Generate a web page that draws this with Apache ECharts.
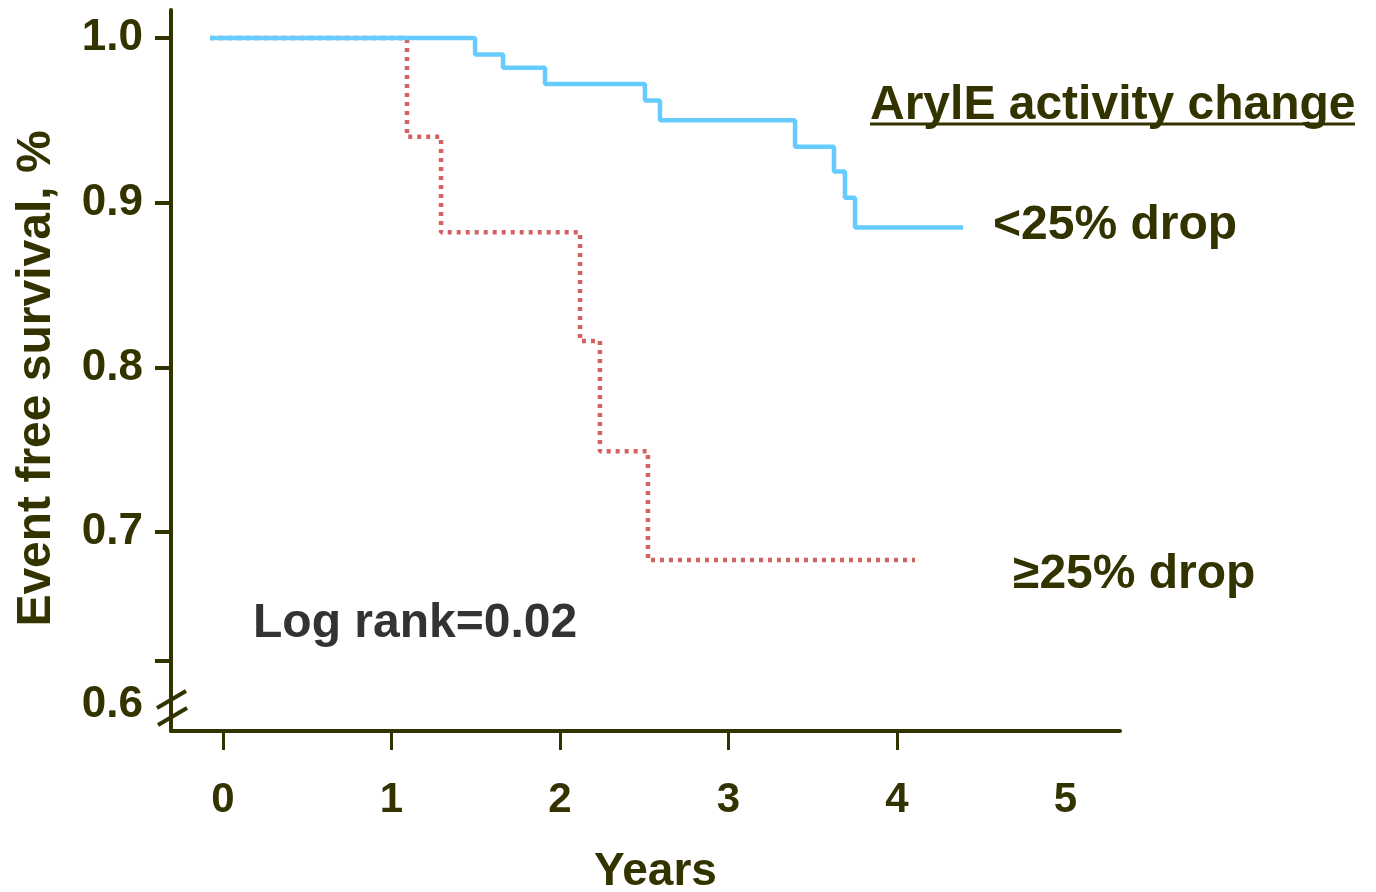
<!DOCTYPE html>
<html>
<head>
<meta charset="utf-8">
<script src="https://cdn.jsdelivr.net/npm/echarts@6/dist/echarts.min.js"></script>
<style>
html,body{margin:0;padding:0;background:#fff;}
#c{width:1376px;height:892px;}
</style>
</head>
<body>
<div id="c"></div>
<script>
// ---- data ----
const xTickValues = [0, 1, 2, 3, 4];
const xLabelValues = [0, 1, 2, 3, 4, 5];
const yLabelValues = [0.595, 0.7, 0.8, 0.9, 1.0];
const yTickValues = [0.622, 0.7, 0.8, 0.9, 1.0];
const yLabelTexts = ['0.6', '0.7', '0.8', '0.9', '1.0'];

// <25% drop (solid blue) : time (years), survival
const lowDropTimes = [-0.077, 1.496, 1.662, 1.911, 2.504, 2.593, 3.395, 3.626, 3.691, 3.751, 4.392];
const lowDropSurv  = [1.000, 0.990, 0.982, 0.972, 0.962, 0.950, 0.934, 0.919, 0.903, 0.885, 0.885];

// >=25% drop (dotted red)
const highDropTimes = [-0.077, 1.092, 1.294, 2.119, 2.237, 2.522, 4.107];
const highDropSurv  = [1.000, 0.940, 0.882, 0.816, 0.749, 0.683, 0.683];

const seriesNames = ['<25% drop', '≥25% drop'];
const legendTitle = 'ArylE activity change';
const statText = 'Log rank=0.02';
const xTitle = 'Years';
const yTitle = 'Event free survival, %';

// ---- chart ----
const TXT = '#333300';
const FONT = '"Liberation Sans", Arial, sans-serif';
const zip = (a, b) => a.map((v, i) => [v, b[i]]);

const chart = echarts.init(document.getElementById('c'));
chart.setOption({
  backgroundColor: '#ffffff',
  animation: false,
  grid: { left: 171, right: 256, top: 10, bottom: 161, containLabel: false, outerBoundsMode: 'none' },
  xAxis: {
    type: 'value', min: -0.3086, max: 5.3234,
    name: xTitle, nameLocation: 'middle', nameGap: 118,
    nameTextStyle: { color: TXT, fontSize: 46, fontWeight: 'bold', fontFamily: FONT, padding: [0, 0, 0, 20] },
    axisLine: { show: true, onZero: false, lineStyle: { color: TXT, width: 4 } },
    axisTick: { show: true, customValues: xTickValues, length: 19, inside: false, lineStyle: { color: TXT, width: 3 } },
    axisLabel: { customValues: xLabelValues, margin: 48, color: TXT, fontSize: 42, fontWeight: 'bold', fontFamily: FONT, formatter: v => String(Math.round(v)) },
    splitLine: { show: false }
  },
  yAxis: {
    type: 'value', min: 0.5792, max: 1.0170,
    name: yTitle, nameLocation: 'middle', nameGap: 110, nameRotate: 90,
    nameTextStyle: { color: TXT, fontSize: 48, fontWeight: 'bold', fontFamily: FONT, padding: [0, 16, 0, 0] },
    axisLine: { show: true, onZero: false, lineStyle: { color: TXT, width: 4 } },
    axisTick: { show: true, customValues: yTickValues, length: 16, inside: false, lineStyle: { color: TXT, width: 4 } },
    axisLabel: {
      customValues: yLabelValues, margin: 28, color: TXT, fontSize: 44, fontWeight: 'bold', fontFamily: FONT,
      formatter: v => yLabelTexts[yLabelValues.findIndex(x => Math.abs(x - v) < 1e-6)]
    },
    splitLine: { show: false }
  },
  series: [
    {
      name: seriesNames[1], type: 'line', step: 'end', symbol: 'none', z: 2,
      data: zip(highDropTimes, highDropSurv),
      lineStyle: { color: '#d4615f', width: 4.5, type: [4, 5] },
      endLabel: { show: true, formatter: seriesNames[1], color: TXT, fontSize: 48, fontWeight: 'bold', fontFamily: FONT, distance: 0, offset: [98, 15] }
    },
    {
      name: seriesNames[0], type: 'line', step: 'end', symbol: 'none', z: 3,
      data: zip(lowDropTimes, lowDropSurv),
      lineStyle: { color: '#66ccff', width: 4.5 },
      endLabel: { show: true, formatter: seriesNames[0], color: TXT, fontSize: 48, fontWeight: 'bold', fontFamily: FONT, distance: 30, offset: [0, -2] }
    }
  ],
  graphic: [
    { type: 'text', left: 870, top: 82, style: { text: legendTitle, fill: TXT, font: 'bold 48px ' + FONT } },
    { type: 'line', shape: { x1: 870, y1: 124, x2: 1355, y2: 124 }, style: { stroke: TXT, lineWidth: 3 } },
    { type: 'text', left: 253, top: 600, style: { text: statText, fill: '#333333', font: 'bold 48px ' + FONT } },
    { type: 'line', shape: { x1: 157, y1: 708, x2: 186, y2: 691 }, style: { stroke: TXT, lineWidth: 4 } },
    { type: 'line', shape: { x1: 158, y1: 725, x2: 187, y2: 708 }, style: { stroke: TXT, lineWidth: 4 } }
  ]
});
</script>
</body>
</html>
